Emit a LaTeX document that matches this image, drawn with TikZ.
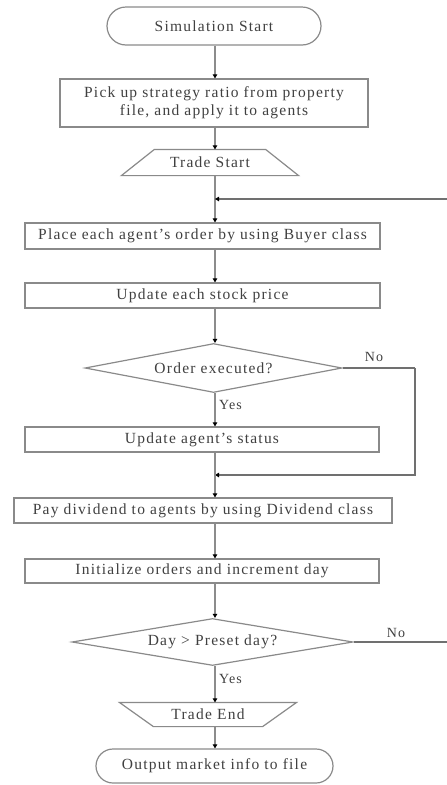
\documentclass[tikz,border=0pt]{standalone}
\usepackage{fontspec}
\setmainfont{Liberation Serif}[LetterSpace=8]
\usetikzlibrary{shapes.geometric,arrows.meta}
\definecolor{bordc}{HTML}{8A8A8A}
\definecolor{linec}{HTML}{8C8C8C}
\definecolor{loopc}{HTML}{707070}
\tikzset{
  base/.style={draw=bordc, line width=1.2pt, inner sep=0pt, font=\fontsize{15.5}{18}\selectfont, text=black!75},
  procbox/.style={base, rectangle},
  termbox/.style={base, rectangle, rounded corners=17pt},
  trapfill/.style={draw=bordc, line width=1.2pt},
  trapnode/.style={base, draw=none, rectangle},
  decbox/.style={base, diamond, aspect=5.2},
  arr/.style={draw=linec, line width=2.2pt, -{Triangle[length=4pt,width=4.5pt,color=black]}},
  looparr/.style={draw=loopc, line width=1.5pt, -{Triangle[length=4pt,width=4.5pt,color=black]}},
  loopl/.style={draw=loopc, line width=1.5pt},
  lab/.style={font=\fontsize{14}{16}\selectfont, text=black!75, inner sep=0pt},
}
\begin{document}
\begin{tikzpicture}[x=1pt,y=-1pt]
\useasboundingbox (0,0) rectangle (447,785);
\coordinate (sp) at (215,0);

\node[termbox, minimum width=214pt, minimum height=38pt, rounded corners=19pt] (start) at (214,26) {Simulation Start};
\node[procbox, minimum width=308pt, minimum height=48pt, align=center] (pick) at (214,103) {Pick up strategy ratio from property\\file, and apply it to agents};
\node[trapnode, minimum width=176pt, minimum height=25pt] (tstart) at (210,162.5) {Trade Start};
\draw[trapfill] (tstart.south west) -- (tstart.south east) -- ([xshift=-33pt]tstart.north east) -- ([xshift=33pt]tstart.north west) -- cycle;
\node[procbox, minimum width=355pt, minimum height=26pt] (place) at (202.5,236) {Place each agent's order by using Buyer class};
\node[procbox, minimum width=355pt, minimum height=25pt] (upd) at (202.5,295.5) {Update each stock price};
\node[decbox, minimum width=257pt, minimum height=49pt] (d1) at (213.5,368) {Order executed?};
\node[procbox, minimum width=354pt, minimum height=25pt] (status) at (202,439.5) {Update agent's status};
\node[procbox, minimum width=378pt, minimum height=25pt] (pay) at (203,510.5) {Pay dividend to agents by using Dividend class};
\node[procbox, minimum width=354pt, minimum height=24pt] (init) at (202,571) {Initialize orders and increment day};
\node[decbox, minimum width=281pt, minimum height=47pt] (d2) at (212.5,642) {Day > Preset day?};
\node[trapnode, minimum width=176pt, minimum height=23pt] (tend) at (208,714.5) {Trade End};
\draw[trapfill] (tend.north west) -- (tend.north east) -- ([xshift=-34pt]tend.south east) -- ([xshift=34pt]tend.south west) -- cycle;
\node[termbox, minimum width=237pt, minimum height=34pt, rounded corners=17pt] (out) at (214.5,766) {Output market info to file};

\coordinate (loopin) at (447,199);
\coordinate (j1) at (215,199);
\coordinate (r1) at (415,368);
\coordinate (j2) at (215,475);
\coordinate (noend) at (447,642);

\draw[arr] (start.south -| sp) -- (pick.north -| sp);
\draw[arr] (pick.south -| sp) -- (tstart.north -| sp);
\draw[arr] (tstart.south -| sp) -- (place.north -| sp);
\draw[looparr] (loopin) -- (j1);
\draw[arr] (place.south -| sp) -- (upd.north -| sp);
\draw[arr] (upd.south -| sp) -- (d1.north -| sp);
\draw[arr] (d1.south -| sp) -- (status.north -| sp);
\draw[loopl] (d1.east) -- (r1);
\draw[looparr] (r1) |- (j2);
\draw[arr] (status.south -| sp) -- (pay.north -| sp);
\draw[arr] (pay.south -| sp) -- (init.north -| sp);
\draw[arr] (init.south -| sp) -- (d2.north -| sp);
\draw[arr] (d2.south -| sp) -- (tend.north -| sp);
\draw[loopl] (d2.east) -- (noend);
\draw[arr] (tend.south -| sp) -- (out.north -| sp);

\node[lab, anchor=west] (y1) at (219,405) {Yes};
\node[lab, anchor=west] (y2) at (219,679) {Yes};
\node[lab] (n1) at (374,357) {No};
\node[lab] (n2) at (396,633) {No};
\end{tikzpicture}
\end{document}
